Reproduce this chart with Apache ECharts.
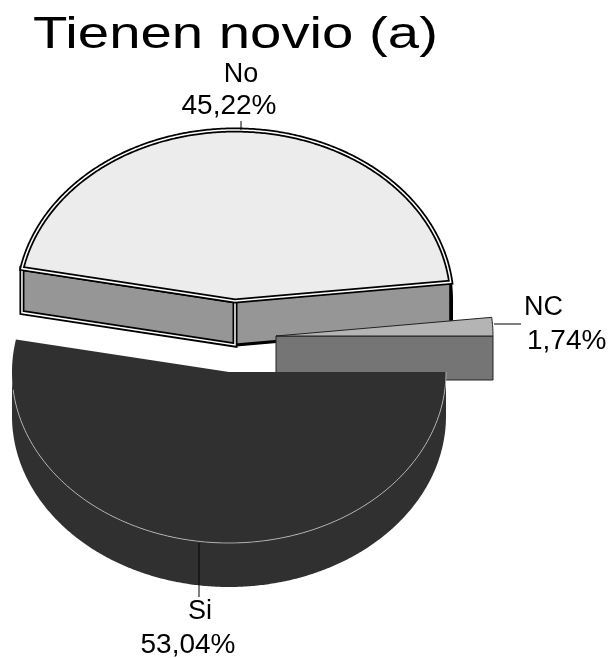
<!DOCTYPE html>
<html>
<head>
<meta charset="utf-8">
<style>html,body{margin:0;padding:0;background:#fff}#c{width:610px;height:658px}</style>
<script src="https://cdn.jsdelivr.net/npm/echarts@6/dist/echarts.min.js"></script>
</head>
<body>
<div id="c"></div>
<script>
// Data, in angular order (counter-clockwise from 3 o'clock)
const categories = ['NC', 'No', 'Si'];
const values = [1.74, 45.22, 53.04];
const chartTitle = 'Tienen novio (a)';

// Layout of the tilted, exploded pie
const RX = 217, RY = 171, DEPTH = 44;
const FONT = '"Liberation Sans", Arial, sans-serif';
const centers = { NC: [276, 336], No: [235, 301], Si: [229, 372] };
const stackOrder = { No: 1, NC: 2, Si: 3 };
const labelLayout = {
  NC: { name: [524, 308, 'left'], pct: [527, 341, 'left'], line: [[494, 324], [521, 324]] },
  No: { name: [241, 75, 'center'], pct: [229, 106, 'center'], line: [[241, 121], [241, 130]] },
  Si: { name: [200, 612, 'center'], pct: [188, 645, 'center'], line: [[199, 543], [199, 597]] }
};

const total = values.reduce((a, b) => a + b, 0);
const startAngles = [];
values.reduce((acc, v, i) => { startAngles[i] = acc; return acc + v / total * 360; }, 0);

function rim(c, deg, dy) {
  const t = deg * Math.PI / 180;
  return [c[0] + RX * Math.cos(t), c[1] - RY * Math.sin(t) + (dy || 0)];
}
function arc(c, a0, a1, dy) {
  const n = Math.max(2, Math.ceil(Math.abs(a1 - a0) * 2));
  const pts = [];
  for (let i = 0; i <= n; i++) pts.push(rim(c, a0 + (a1 - a0) * i / n, dy));
  return pts;
}
const poly = (points, style, closed) => ({
  type: closed === false ? 'polyline' : 'polygon',
  shape: { points: points },
  style: style,
  silent: true
});
const down = (p) => [p[0], p[1] + DEPTH];
function wedge(c, a0, a1) { return [c].concat(arc(c, a0, a1)); }
function doubleStroke(points) {
  return [
    poly(points, { fill: 'none', stroke: '#000', lineWidth: 5, lineJoin: 'miter' }),
    poly(points, { fill: 'none', stroke: '#fff', lineWidth: 1.5, lineJoin: 'miter' })
  ];
}

function drawNo(c, a0, a1) {
  const l = rim(c, a1), r = rim(c, a0);
  const out = [];
  const sideArc = arc(c, a0, 0).concat(arc(c, 0, a0, DEPTH));
  out.push(poly(sideArc, { fill: '#000', stroke: '#000', lineWidth: 2 }));
  const rightFace = [c, r, down(r), down(c)];
  out.push(poly(rightFace, { fill: '#969696', stroke: '#000', lineWidth: 3 }));
  const leftFace = [l, c, down(c), down(l)];
  out.push(poly(leftFace, { fill: '#969696' }));
  out.push(...doubleStroke(leftFace));
  const top = wedge(c, a0, a1);
  out.push(poly(top, { fill: '#ececec' }));
  out.push(...doubleStroke(top));
  return out;
}
function drawNC(c, a0, a1) {
  const r0 = rim(c, a0);
  return [
    poly([c, r0, down(r0), down(c)], { fill: '#757575', stroke: '#222', lineWidth: 1 }),
    poly(arc(c, a0, a1).concat([c]), { fill: '#b4b4b4', stroke: '#222', lineWidth: 1 })
  ];
}
function drawSi(c, a0, a1) {
  const DARK = '#303030';
  const side = arc(c, 180, 360).concat(arc(c, 360, 180, DEPTH));
  return [
    poly(side, { fill: DARK }),
    poly(wedge(c, a0, a1), { fill: DARK }),
    poly(arc(c, 186, 360), { fill: 'none', stroke: '#c8c8c8', lineWidth: 0.8 }, false)
  ];
}
const drawers = { NC: drawNC, No: drawNo, Si: drawSi };

function pctText(v) { return v.toFixed(2).replace('.', ',') + '%'; }
function labelText(text, p, size) {
  return {
    type: 'text', silent: true,
    style: { text: text, x: p[0], y: p[1], align: p[2], verticalAlign: 'middle', font: size + 'px ' + FONT, fill: '#000' }
  };
}

function renderItem(params, api) {
  const i = params.dataIndex, name = categories[i];
  const a0 = startAngles[i], a1 = a0 + api.value(0) / total * 360;
  const lay = labelLayout[name];
  const children = drawers[name](centers[name], a0, a1);
  children.push(poly(lay.line, { fill: 'none', stroke: '#000', lineWidth: 1 }, false));
  children.push(labelText(name, lay.name, 27));
  children.push(labelText(pctText(api.value(0)), lay.pct, 28));
  children.forEach(el => { el.z2 = stackOrder[name]; });
  return { type: 'group', children: children };
}

const chart = echarts.init(document.getElementById('c'), null, { renderer: 'canvas' });
chart.setOption({
  animation: false,
  backgroundColor: '#fff',
  graphic: [{
    type: 'text', x: 33, y: 36, scaleX: 1.28, scaleY: 1, silent: true,
    style: { text: chartTitle, font: '44px ' + FONT, fill: '#000', verticalAlign: 'middle', align: 'left' }
  }],
  series: [{
    type: 'custom',
    coordinateSystem: 'none',
    renderItem: renderItem,
    data: values.map(v => [v]),
    silent: true
  }]
});
</script>
</body>
</html>
